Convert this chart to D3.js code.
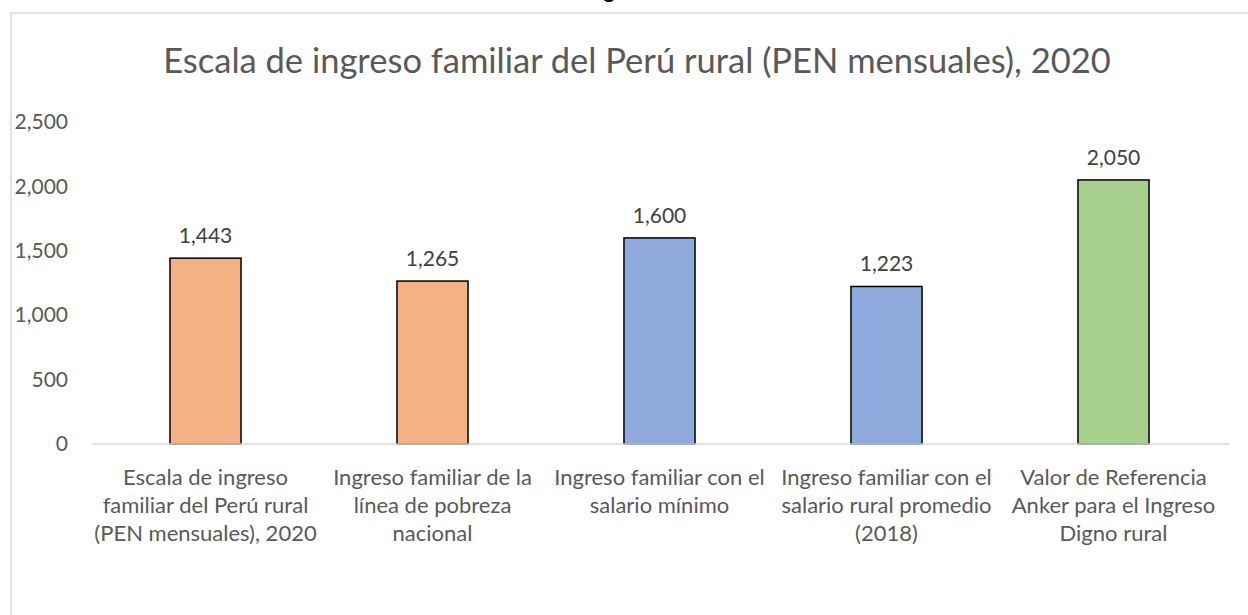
<!DOCTYPE html>
<html>
<head>
<meta charset="utf-8">
<script src="https://cdn.jsdelivr.net/npm/d3@7"></script>
<style>
  body { margin: 0; background: #fff; }
  text { font-family: Lato, "Open Sans", sans-serif; }
</style>
</head>
<body>
<div id="chart"></div>
<script>
// datos
var categorias = [
  ["Escala de ingreso", "familiar del Perú rural", "(PEN mensuales), 2020"],
  ["Ingreso familiar de la", "línea de pobreza", "nacional"],
  ["Ingreso familiar con el", "salario mínimo"],
  ["Ingreso familiar con el", "salario rural promedio", "(2018)"],
  ["Valor de Referencia", "Anker para el Ingreso", "Digno rural"]
];
var valores = [1443, 1265, 1600, 1223, 2050];
var colores = ["#F4B183", "#F4B183", "#8FAADC", "#8FAADC", "#A9D18E"];
var ticksY = [0, 500, 1000, 1500, 2000, 2500];
var titulo = "Escala de ingreso familiar del Perú rural (PEN mensuales), 2020";

var W = 1248, H = 615;
var svg = d3.select("#chart").append("svg")
  .attr("width", W)
  .attr("height", H);

// texto cortado arriba (solo se ve el descendente)
svg.append("text")
  .attr("x", 609).attr("y", -2)
  .attr("text-anchor", "middle")
  .attr("font-weight", "bold")
  .attr("font-size", 22)
  .attr("fill", "#000")
  .text("g");

// borde del gráfico
svg.append("rect")
  .attr("x", 11).attr("y", 13)
  .attr("width", 1300).attr("height", 700)
  .attr("fill", "none")
  .attr("stroke", "#d9d9d9")
  .attr("stroke-width", 1.5);

svg.append("text")
  .attr("x", 637).attr("y", 73)
  .attr("text-anchor", "middle")
  .attr("font-size", 34.5)
  .attr("fill", "#595959")
  .text(titulo);

var x = d3.scaleBand()
  .domain(d3.range(valores.length))
  .range([92, 1227])
  .paddingInner(0.687)
  .paddingOuter(0.3435);

var y = d3.scaleLinear()
  .domain([0, 2500])
  .range([444, 122]);

// eje y
var ejeY = svg.append("g")
  .attr("transform", "translate(68,0)")
  .call(d3.axisLeft(y).tickValues(ticksY).tickFormat(d3.format(",")).tickSize(0).tickPadding(0));
ejeY.select(".domain").remove();
ejeY.selectAll("text")
  .attr("font-family", "Lato, sans-serif")
  .attr("font-size", 21)
  .attr("fill", "#595959");

// barras
svg.selectAll("rect.barra")
  .data(valores)
  .enter().append("rect")
  .attr("class", "barra")
  .attr("x", function(d, i) { return x(i); })
  .attr("y", function(d) { return y(d); })
  .attr("width", x.bandwidth())
  .attr("height", function(d) { return y(0) - y(d); })
  .attr("fill", function(d, i) { return colores[i]; })
  .attr("stroke", "#000")
  .attr("stroke-width", 1.5);

// línea base
svg.append("line")
  .attr("x1", 92).attr("x2", 1229)
  .attr("y1", y(0)).attr("y2", y(0))
  .attr("stroke", "#d9d9d9")
  .attr("stroke-width", 1.5);

// etiquetas de valor
svg.selectAll("text.valor")
  .data(valores)
  .enter().append("text")
  .attr("class", "valor")
  .attr("x", function(d, i) { return x(i) + x.bandwidth() / 2; })
  .attr("y", function(d) { return y(d) - 15; })
  .attr("text-anchor", "middle")
  .attr("font-size", 21)
  .attr("fill", "#404040")
  .text(d3.format(","));

// etiquetas de categoría
var cat = svg.selectAll("text.cat")
  .data(categorias)
  .enter().append("text")
  .attr("class", "cat")
  .attr("text-anchor", "middle")
  .attr("font-size", 22)
  .attr("fill", "#595959")
  .attr("transform", function(d, i) { return "translate(" + (x(i) + x.bandwidth() / 2) + ",485)"; });

cat.selectAll("tspan")
  .data(function(d) { return d; })
  .enter().append("tspan")
  .attr("x", 0)
  .attr("y", function(d, j) { return j * 28; })
  .text(function(d) { return d; });
</script>
</body>
</html>
